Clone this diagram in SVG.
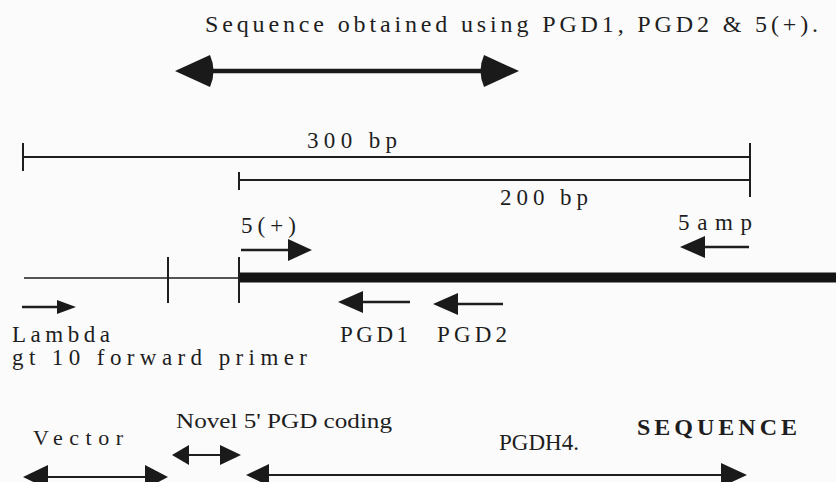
<svg xmlns="http://www.w3.org/2000/svg" width="836" height="482" viewBox="0 0 836 482">
<rect width="836" height="482" fill="#fbfbfb"/>
<g id="title">
<text x="205" y="32" style="font-family:'Liberation Serif';font-size:24px;fill:#1e1e1e" textLength="613" lengthAdjust="spacing">Sequence  obtained  using  PGD1,  PGD2   &amp;  5(+).</text>
</g>
<g id="scale-300"><text x="307" y="148" style="font-family:'Liberation Serif';font-size:23px;fill:#1e1e1e" textLength="90" lengthAdjust="spacing">300  bp</text></g>
<g id="scale-200"><text x="500" y="205" style="font-family:'Liberation Serif';font-size:23px;fill:#1e1e1e" textLength="88" lengthAdjust="spacing">200  bp</text></g>
<g id="primer-5plus"><text x="241" y="233" style="font-family:'Liberation Serif';font-size:23px;fill:#1e1e1e" textLength="55" lengthAdjust="spacing">5(+)</text></g>
<g id="primer-5amp"><text x="678" y="230" style="font-family:'Liberation Serif';font-size:23px;fill:#1e1e1e" textLength="74" lengthAdjust="spacing">5amp</text></g>
<g id="primer-lambda">
<text x="12" y="342" style="font-family:'Liberation Serif';font-size:23px;fill:#1e1e1e" textLength="98" lengthAdjust="spacing">Lambda</text>
<text x="12" y="365" style="font-family:'Liberation Serif';font-size:23px;fill:#1e1e1e" textLength="295" lengthAdjust="spacing">gt  10  forward  primer</text>
</g>
<g id="primer-pgd1"><text x="340" y="342" style="font-family:'Liberation Serif';font-size:23px;fill:#1e1e1e" textLength="68" lengthAdjust="spacing">PGD1</text></g>
<g id="primer-pgd2"><text x="437" y="342" style="font-family:'Liberation Serif';font-size:23px;fill:#1e1e1e" textLength="70" lengthAdjust="spacing">PGD2</text></g>
<g id="region-vector"><text x="33" y="445" style="font-family:'Liberation Serif';font-size:22px;fill:#1e1e1e" textLength="90" lengthAdjust="spacing">Vector</text></g>
<g id="region-novel"><text x="176" y="428" style="font-family:'Liberation Serif';font-size:22px;fill:#1e1e1e" textLength="216" lengthAdjust="spacingAndGlyphs">Novel  5'  PGD  coding</text></g>
<g id="region-pgdh4">
<text x="499" y="450" style="font-family:'Liberation Serif';font-size:23px;fill:#1e1e1e" textLength="80" lengthAdjust="spacingAndGlyphs">PGDH4.</text>
<text x="637" y="435" style="font-family:'Liberation Serif';font-size:24px;font-weight:bold;fill:#1e1e1e" textLength="160" lengthAdjust="spacing">SEQUENCE</text>
</g>
<g id="connectors">
<line x1="205" y1="71" x2="489" y2="71" stroke="#1a1a1a" stroke-width="4.5"/>
<path fill="#1a1a1a" d="M175,71 L210,55 Q217,71 210,87 Z"/>
<path fill="#1a1a1a" d="M519,71 L484,55 Q477,71 484,87 Z"/>
<line x1="23" y1="157" x2="750" y2="157" stroke="#1e1e1e" stroke-width="2"/>
<line x1="23" y1="143" x2="23" y2="171" stroke="#1e1e1e" stroke-width="2"/>
<line x1="750" y1="143" x2="750" y2="197" stroke="#1e1e1e" stroke-width="2"/>
<line x1="239" y1="180" x2="750" y2="180" stroke="#1e1e1e" stroke-width="2"/>
<line x1="239" y1="172" x2="239" y2="190" stroke="#1e1e1e" stroke-width="2"/>
<line x1="24" y1="278" x2="239" y2="278" stroke="#1e1e1e" stroke-width="1.6"/>
<line x1="239" y1="277.5" x2="836" y2="277.5" stroke="#141414" stroke-width="10"/>
<line x1="168" y1="257" x2="168" y2="303" stroke="#1e1e1e" stroke-width="2"/>
<line x1="239" y1="257" x2="239" y2="303" stroke="#1e1e1e" stroke-width="2"/>
<line x1="241" y1="250" x2="292" y2="250" stroke="#1e1e1e" stroke-width="2.5"/>
<path fill="#1a1a1a" d="M312,250 L288,239 L288,261 Z"/>
<line x1="749" y1="247" x2="700" y2="247" stroke="#1e1e1e" stroke-width="2.5"/>
<path fill="#1a1a1a" d="M680,247 L705,236 L705,258 Z"/>
<line x1="410" y1="302" x2="358" y2="302" stroke="#1e1e1e" stroke-width="2.5"/>
<path fill="#1a1a1a" d="M338,302 L363,291 L363,313 Z"/>
<line x1="503" y1="304" x2="453" y2="304" stroke="#1e1e1e" stroke-width="2.5"/>
<path fill="#1a1a1a" d="M433,304 L458,293 L458,315 Z"/>
<line x1="22" y1="307" x2="60" y2="307" stroke="#1e1e1e" stroke-width="2.5"/>
<path fill="#1a1a1a" d="M76,307 L57,300 L57,314 Z"/>
<line x1="45" y1="477" x2="148" y2="477" stroke="#1e1e1e" stroke-width="2"/>
<path fill="#1a1a1a" d="M23,477 L48,465 L48,489 Z"/>
<path fill="#1a1a1a" d="M168,477 L145,465 L145,489 Z"/>
<line x1="185" y1="455" x2="225" y2="455" stroke="#1e1e1e" stroke-width="2"/>
<path fill="#1a1a1a" d="M172,455 L189,445 L189,465 Z"/>
<path fill="#1a1a1a" d="M241,455 L220,445 L220,465 Z"/>
<line x1="265" y1="475" x2="725" y2="475" stroke="#1e1e1e" stroke-width="2"/>
<path fill="#1a1a1a" d="M246,475 L269,464 L269,486 Z"/>
<path fill="#1a1a1a" d="M747,475 L721,463 L721,487 Z"/>
</g>
</svg>
